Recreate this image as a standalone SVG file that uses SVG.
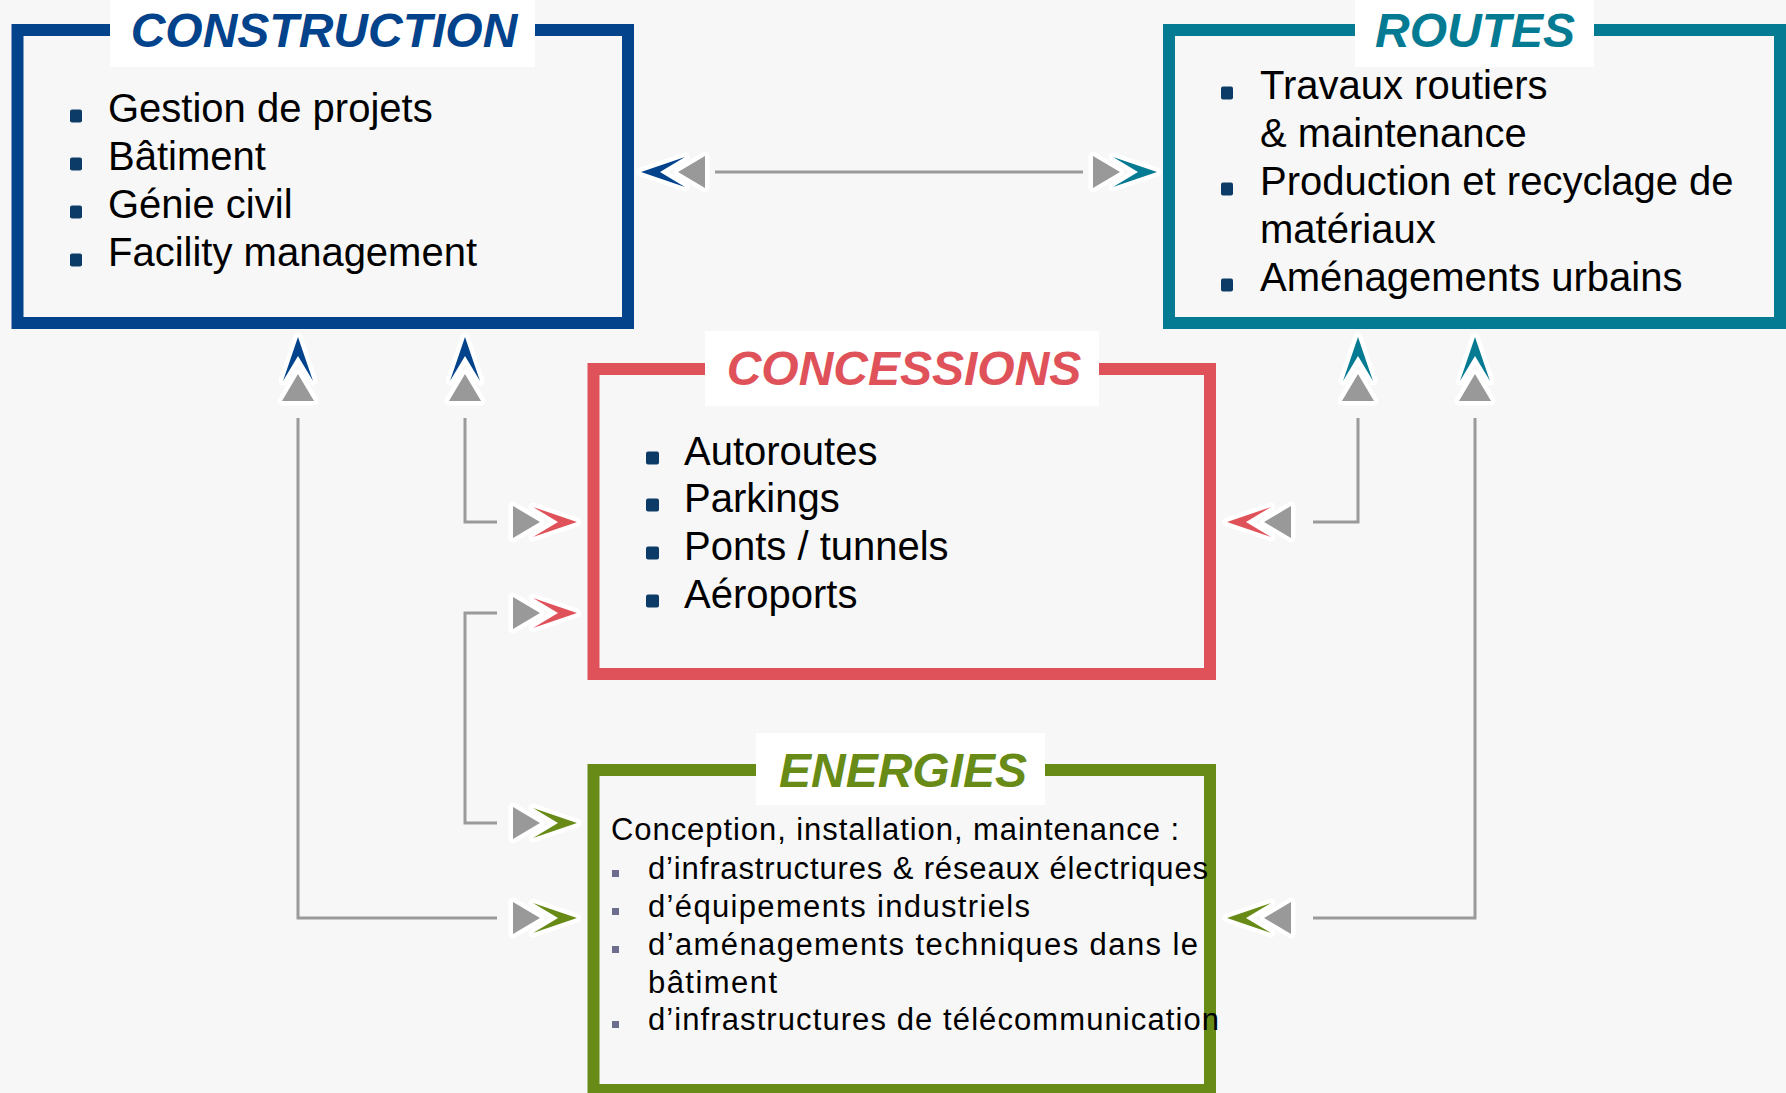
<svg xmlns="http://www.w3.org/2000/svg" xmlns:xlink="http://www.w3.org/1999/xlink" width="1786" height="1093" viewBox="0 0 1786 1093">
<style>
.title{font-family:"Liberation Sans",Arial,sans-serif;font-weight:bold;font-style:italic;font-size:48px;text-anchor:middle}
.item{font-family:"Liberation Sans",Arial,sans-serif;font-size:40px;fill:#000}
.sub{font-family:"Liberation Sans",Arial,sans-serif;font-size:31px;fill:#000}
.box{fill:none;stroke-width:12}
.tbg{fill:#ffffff}
.bul{fill:#0d3b68}
.sbul{fill:#6d6d8d}
.conn{fill:none;stroke:#9a9a9a;stroke-width:3}
.ah{stroke:#ffffff;stroke-width:9;stroke-linejoin:round;paint-order:stroke}
.gray{fill:#999999}
</style>
<defs>
<polygon id="chev" points="0,0 -44,-15 -19,0 -44,15"/>
<polygon id="tri" points="-37,0 -64,-16 -64,16"/>
</defs>
<rect x="0" y="0" width="1786" height="1093" fill="#f7f7f7"/>

<g id="node-construction">
<rect class="box" x="17.5" y="30" width="610.5" height="293" stroke="#02438c"/>
<rect class="tbg" x="110" y="0" width="425" height="67"/>
<text class="title" x="324" y="47" fill="#02438c">CONSTRUCTION</text>
<rect class="bul" x="70" y="109.5" width="12" height="13" rx="2"/>
<rect class="bul" x="70" y="157.5" width="12" height="13" rx="2"/>
<rect class="bul" x="70" y="205.5" width="12" height="13" rx="2"/>
<rect class="bul" x="70" y="253.5" width="12" height="13" rx="2"/>
<text class="item" x="108" y="121.5">Gestion de projets</text>
<text class="item" x="108" y="169.5">Bâtiment</text>
<text class="item" x="108" y="217.5">Génie civil</text>
<text class="item" x="108" y="265.5">Facility management</text>
</g>

<g id="node-routes">
<rect class="box" x="1169" y="30" width="611" height="293" stroke="#047b92"/>
<rect class="tbg" x="1355" y="0" width="239" height="67"/>
<text class="title" x="1475" y="47" fill="#047b92">ROUTES</text>
<rect class="bul" x="1221" y="86.5" width="12" height="13" rx="2"/>
<rect class="bul" x="1221" y="182.5" width="12" height="13" rx="2"/>
<rect class="bul" x="1221" y="278.5" width="12" height="13" rx="2"/>
<text class="item" x="1260" y="98.5">Travaux routiers</text>
<text class="item" x="1260" y="146.5">&amp; maintenance</text>
<text class="item" x="1260" y="194.5">Production et recyclage de</text>
<text class="item" x="1260" y="242.5">matériaux</text>
<text class="item" x="1260" y="290.5">Aménagements urbains</text>
</g>

<g id="node-concessions">
<rect class="box" x="593.5" y="369" width="616.5" height="305" stroke="#e0525a"/>
<rect class="tbg" x="705" y="331" width="394" height="75"/>
<text class="title" x="904" y="385" fill="#e0525a">CONCESSIONS</text>
<rect class="bul" x="646" y="451.5" width="13" height="13" rx="2"/>
<rect class="bul" x="646" y="498.5" width="13" height="13" rx="2"/>
<rect class="bul" x="646" y="546.5" width="13" height="13" rx="2"/>
<rect class="bul" x="646" y="594.5" width="13" height="13" rx="2"/>
<text class="item" x="684" y="464.5">Autoroutes</text>
<text class="item" x="684" y="511.5">Parkings</text>
<text class="item" x="684" y="559.5">Ponts / tunnels</text>
<text class="item" x="684" y="607.5">Aéroports</text>
</g>

<g id="node-energies">
<rect class="box" x="593.5" y="770" width="616.5" height="320" stroke="#678b16"/>
<rect class="tbg" x="756" y="733" width="289" height="72"/>
<text class="title" x="903" y="787" fill="#678b16">ENERGIES</text>
<text class="sub" x="611" y="840" textLength="568" lengthAdjust="spacing">Conception, installation, maintenance :</text>
<rect class="sbul" x="612" y="870" width="7" height="7"/>
<rect class="sbul" x="612" y="908" width="7" height="7"/>
<rect class="sbul" x="612" y="946" width="7" height="7"/>
<rect class="sbul" x="612" y="1021" width="7" height="7"/>
<text class="sub" x="648" y="879" textLength="560" lengthAdjust="spacing">d’infrastructures &amp; réseaux électriques</text>
<text class="sub" x="648" y="917" textLength="382" lengthAdjust="spacing">d’équipements industriels</text>
<text class="sub" x="648" y="955" textLength="550" lengthAdjust="spacing">d’aménagements techniques dans le</text>
<text class="sub" x="648" y="993" textLength="129" lengthAdjust="spacing">bâtiment</text>
<text class="sub" x="648" y="1030" textLength="571" lengthAdjust="spacing">d’infrastructures de télécommunication</text>
</g>

<g id="connectors">
<line class="conn" x1="715" y1="172" x2="1083" y2="172"/>
<polyline class="conn" points="298,418 298,918 497,918"/>
<polyline class="conn" points="465,418 465,522 497,522"/>
<polyline class="conn" points="497,613 465,613 465,823 497,823"/>
<polyline class="conn" points="1358,418 1358,522 1313,522"/>
<polyline class="conn" points="1475,418 1475,918 1313,918"/>

<g transform="translate(641,172) rotate(180)"><use xlink:href="#tri" class="ah gray"/><use xlink:href="#chev" class="ah" fill="#02438c"/></g>
<g transform="translate(1157,172)"><use xlink:href="#tri" class="ah gray"/><use xlink:href="#chev" class="ah" fill="#047b92"/></g>

<g transform="translate(298,337) rotate(-90)"><use xlink:href="#tri" class="ah gray"/><use xlink:href="#chev" class="ah" fill="#02438c"/></g>
<g transform="translate(465,337) rotate(-90)"><use xlink:href="#tri" class="ah gray"/><use xlink:href="#chev" class="ah" fill="#02438c"/></g>
<g transform="translate(1358,337) rotate(-90)"><use xlink:href="#tri" class="ah gray"/><use xlink:href="#chev" class="ah" fill="#047b92"/></g>
<g transform="translate(1475,337) rotate(-90)"><use xlink:href="#tri" class="ah gray"/><use xlink:href="#chev" class="ah" fill="#047b92"/></g>

<g transform="translate(577,522)"><use xlink:href="#tri" class="ah gray"/><use xlink:href="#chev" class="ah" fill="#e0525a"/></g>
<g transform="translate(577,613)"><use xlink:href="#tri" class="ah gray"/><use xlink:href="#chev" class="ah" fill="#e0525a"/></g>
<g transform="translate(577,823)"><use xlink:href="#tri" class="ah gray"/><use xlink:href="#chev" class="ah" fill="#678b16"/></g>
<g transform="translate(577,918)"><use xlink:href="#tri" class="ah gray"/><use xlink:href="#chev" class="ah" fill="#678b16"/></g>
<g transform="translate(1227,522) rotate(180)"><use xlink:href="#tri" class="ah gray"/><use xlink:href="#chev" class="ah" fill="#e0525a"/></g>
<g transform="translate(1227,918) rotate(180)"><use xlink:href="#tri" class="ah gray"/><use xlink:href="#chev" class="ah" fill="#678b16"/></g>
</g>
</svg>
